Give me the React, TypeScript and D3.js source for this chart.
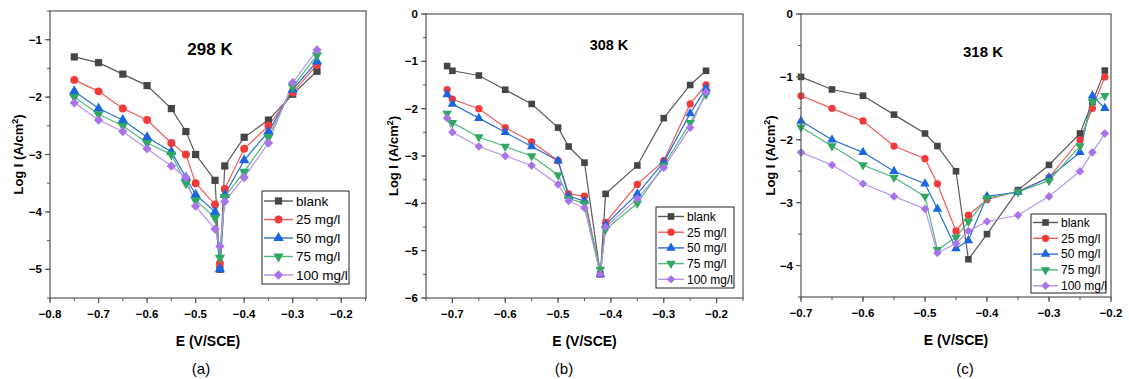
import * as d3 from 'd3'

const SERIES = ['blank', '25 mg/l', '50 mg/l', '75 mg/l', '100 mg/l']

// 298 K
const E_298 = [-0.75, -0.7, -0.65, -0.6, -0.55, -0.52, -0.5, -0.46, -0.45, -0.44, -0.4, -0.35, -0.3, -0.25]
const LOGI_298 = [
  [-1.3, -1.4, -1.6, -1.8, -2.2, -2.6, -3.0, -3.45, -5.0, -3.2, -2.7, -2.4, -1.95, -1.55],
  [-1.7, -1.9, -2.2, -2.4, -2.8, -3.0, -3.5, -3.87, -4.9, -3.6, -2.9, -2.5, -1.92, -1.44],
  [-1.9, -2.2, -2.4, -2.7, -2.95, -3.4, -3.7, -4.0, -5.0, -3.7, -3.1, -2.6, -1.87, -1.38],
  [-2.0, -2.3, -2.5, -2.8, -3.0, -3.5, -3.8, -4.1, -4.8, -3.74, -3.3, -2.7, -1.82, -1.27],
  [-2.1, -2.4, -2.6, -2.9, -3.2, -3.4, -3.9, -4.3, -4.6, -3.82, -3.4, -2.8, -1.75, -1.18],
]

// 308 K
const E_308 = [-0.71, -0.7, -0.65, -0.6, -0.55, -0.5, -0.48, -0.45, -0.42, -0.41, -0.35, -0.3, -0.25, -0.22]
const LOGI_308 = [
  [-1.1, -1.2, -1.3, -1.6, -1.9, -2.4, -2.8, -3.14, -5.5, -3.8, -3.2, -2.2, -1.5, -1.2],
  [-1.6, -1.8, -2.0, -2.4, -2.7, -3.1, -3.8, -3.85, -5.5, -4.4, -3.6, -3.1, -1.9, -1.5],
  [-1.7, -1.9, -2.2, -2.5, -2.8, -3.1, -3.85, -3.95, -5.5, -4.45, -3.8, -3.13, -2.1, -1.57],
  [-2.1, -2.3, -2.6, -2.8, -3.0, -3.4, -3.9, -4.0, -5.4, -4.55, -4.0, -3.2, -2.3, -1.7],
  [-2.2, -2.5, -2.8, -3.0, -3.2, -3.6, -3.95, -4.1, -5.5, -4.5, -3.9, -3.25, -2.4, -1.65],
]

// 318 K
const E_318 = [-0.7, -0.65, -0.6, -0.55, -0.5, -0.48, -0.45, -0.43, -0.4, -0.35, -0.3, -0.25, -0.23, -0.21]
const LOGI_318 = [
  [-1.0, -1.2, -1.3, -1.6, -1.9, -2.1, -2.5, -3.9, -3.5, -2.8, -2.4, -1.9, -1.4, -0.9],
  [-1.3, -1.5, -1.7, -2.1, -2.3, -2.7, -3.45, -3.2, -2.95, -2.82, -2.6, -2.0, -1.5, -1.0],
  [-1.7, -2.0, -2.2, -2.5, -2.7, -3.1, -3.73, -3.6, -2.9, -2.83, -2.6, -2.2, -1.3, -1.5],
  [-1.8, -2.1, -2.4, -2.6, -2.9, -3.75, -3.55, -3.3, -2.93, -2.83, -2.65, -2.1, -1.4, -1.3],
  [-2.2, -2.4, -2.7, -2.9, -3.1, -3.8, -3.65, -3.45, -3.3, -3.2, -2.9, -2.5, -2.2, -1.9],
]

const X_TICKS_A = [-0.8, -0.7, -0.6, -0.5, -0.4, -0.3, -0.2]
const X_TICKS_B = [-0.7, -0.6, -0.5, -0.4, -0.3, -0.2]
const X_TICKS_C = [-0.7, -0.6, -0.5, -0.4, -0.3, -0.2]
const Y_TICKS_A = [-5, -4, -3, -2, -1]
const Y_TICKS_B = [-6, -5, -4, -3, -2, -1, 0]
const Y_TICKS_C = [-4, -3, -2, -1, 0]

const LINE_COLORS = ['#5a5a5a', '#f25a5a', '#2a6fd8', '#4fb97a', '#b793ea']
const MARK_COLORS = ['#454545', '#f23a3a', '#1a66e0', '#2fa862', '#a874e8']
const SHAPES = ['square', 'circle', 'triangle', 'triangleDown', 'diamond']

const FONT = 'Arial, "Liberation Sans", sans-serif'
const AXIS = '#555'
const fmtX = d3.format('.1f')
const fmtY = d3.format('d')

function Marker({ shape, x, y, s, color }) {
  if (shape === 'square') return <rect x={x - s} y={y - s} width={s * 2} height={s * 2} fill={color} />
  if (shape === 'circle') return <circle cx={x} cy={y} r={s * 1.1} fill={color} />
  if (shape === 'diamond') {
    const d = s * 1.3
    return <path d={`M${x},${y - d}L${x + d},${y}L${x},${y + d}L${x - d},${y}Z`} fill={color} />
  }
  const rot = shape === 'triangleDown' ? 180 : 0
  return <path d={d3.symbol(d3.symbolTriangle, s * s * 3.6)()} transform={`translate(${x},${y}) rotate(${rot})`} fill={color} />
}

function Panel({ frame, xDomain, yDomain, xTicks, yTicks, xs, ys, title, legend, tag, ms }) {
  const x = d3.scaleLinear().domain(xDomain).range([frame.l, frame.r])
  const y = d3.scaleLinear().domain(yDomain).range([frame.b, frame.t])
  const xMinor = d3.range(Math.ceil(xDomain[0] / 0.05 - 1e-6), Math.floor(xDomain[1] / 0.05 + 1e-6) + 1).map(k => k * 0.05)
  const yMinor = d3.range(Math.ceil(yDomain[0] / 0.5 - 1e-6), Math.floor(yDomain[1] / 0.5 + 1e-6) + 1).map(k => k * 0.5)
  const line = d3.line<number>().x((_, i) => x(xs[i])).y(d => y(d))
  const cx = (frame.l + frame.r) / 2
  const cy = (frame.t + frame.b) / 2

  return (
    <g>
      {ys.map((s, k) => (
        <path key={'l' + k} d={line(s)} fill="none" stroke={LINE_COLORS[k]} strokeWidth={1.2} />
      ))}
      {ys.map((s, k) => s.map((v, i) => (
        <Marker key={`m${k}-${i}`} shape={SHAPES[k]} x={x(xs[i])} y={y(v)} s={ms} color={MARK_COLORS[k]} />
      )))}
      <rect x={frame.l} y={frame.t} width={frame.r - frame.l} height={frame.b - frame.t} fill="none" stroke={AXIS} strokeWidth={1.2} />
      {xMinor.map((t, i) => (
        <line key={'xm' + i} x1={x(t)} x2={x(t)} y1={frame.b} y2={frame.b + 3} stroke={AXIS} />
      ))}
      {xTicks.map((t, i) => (
        <g key={'xt' + i}>
          <line x1={x(t)} x2={x(t)} y1={frame.b} y2={frame.b + 5} stroke={AXIS} strokeWidth={1.2} />
          <text x={x(t)} y={frame.b + 20} textAnchor="middle" fontSize={11.5} fontWeight="bold" fontFamily={FONT}>{fmtX(t)}</text>
        </g>
      ))}
      {yMinor.map((t, i) => (
        <line key={'ym' + i} x1={frame.l - 3} x2={frame.l} y1={y(t)} y2={y(t)} stroke={AXIS} />
      ))}
      {yTicks.map((t, i) => (
        <g key={'yt' + i}>
          <line x1={frame.l - 5} x2={frame.l} y1={y(t)} y2={y(t)} stroke={AXIS} strokeWidth={1.2} />
          <text x={frame.l - 8} y={y(t) + 4} textAnchor="end" fontSize={11.5} fontWeight="bold" fontFamily={FONT}>{fmtY(t)}</text>
        </g>
      ))}
      <text x={title.x} y={title.y} textAnchor="middle" fontSize={title.size} fontWeight="bold" fontFamily={FONT}>{title.text}</text>
      <text x={cx} y={frame.b + 48} textAnchor="middle" fontSize={14} fontWeight="bold" fontFamily={FONT}>E (V/SCE)</text>
      <text transform={`translate(${tag.yl},${cy}) rotate(-90)`} textAnchor="middle" fontSize={13} fontWeight="bold" fontFamily={FONT}>
        Log I (A/cm<tspan dy={-5} fontSize={9}>2</tspan><tspan dy={5}>)</tspan>
      </text>
      <text x={tag.x} y={374} textAnchor="middle" fontSize={15} fontFamily={FONT}>{tag.text}</text>
      <g>
        <rect x={legend.x} y={legend.y} width={legend.w} height={legend.h} fill="#fff" stroke="#222" strokeWidth={1} />
        {SERIES.map((name, k) => {
          const ry = legend.y + legend.pad + k * legend.step
          return (
            <g key={'lg' + k}>
              <line x1={legend.x + 2} x2={legend.x + 2 + legend.sw} y1={ry} y2={ry} stroke={LINE_COLORS[k]} strokeWidth={1.4} />
              <Marker shape={SHAPES[k]} x={legend.x + 2 + legend.sw / 2} y={ry} s={ms} color={MARK_COLORS[k]} />
              <text x={legend.x + legend.sw + 5} y={ry + legend.fs * 0.36} fontSize={legend.fs} fontFamily={FONT}>{name}</text>
            </g>
          )
        })}
      </g>
    </g>
  )
}

export default function App() {
  return (
    <svg width={1129} height={379} style={{ position: 'absolute', left: 0, top: 0, background: '#fff' }}>
      <Panel
        frame={{ l: 50, r: 366, t: 11, b: 298 }}
        xDomain={[-0.8, -0.149]} yDomain={[-5.5, -0.5]}
        xTicks={X_TICKS_A} yTicks={Y_TICKS_A}
        xs={E_298} ys={LOGI_298}
        title={{ text: '298 K', x: 210, y: 55, size: 17 }}
        legend={{ x: 262, y: 191, w: 87, h: 93, pad: 10, step: 18.5, sw: 29, fs: 13.5 }}
        tag={{ text: '(a)', x: 201, yl: 23 }}
        ms={3.6}
      />
      <Panel
        frame={{ l: 426, r: 743, t: 14, b: 298 }}
        xDomain={[-0.75, -0.15]} yDomain={[-6, 0]}
        xTicks={X_TICKS_B} yTicks={Y_TICKS_B}
        xs={E_308} ys={LOGI_308}
        title={{ text: '308 K', x: 609, y: 50, size: 14.5 }}
        legend={{ x: 656, y: 207, w: 78, h: 81, pad: 9.5, step: 15.7, sw: 26, fs: 12 }}
        tag={{ text: '(b)', x: 564, yl: 398 }}
        ms={3.3}
      />
      <Panel
        frame={{ l: 801, r: 1111, t: 14, b: 297 }}
        xDomain={[-0.7, -0.2]} yDomain={[-4.5, 0]}
        xTicks={X_TICKS_C} yTicks={Y_TICKS_C}
        xs={E_318} ys={LOGI_318}
        title={{ text: '318 K', x: 983, y: 57, size: 15 }}
        legend={{ x: 1031, y: 214, w: 75, h: 79, pad: 8.5, step: 15.8, sw: 25, fs: 12 }}
        tag={{ text: '(c)', x: 965, yl: 775 }}
        ms={3.3}
      />
    </svg>
  )
}
